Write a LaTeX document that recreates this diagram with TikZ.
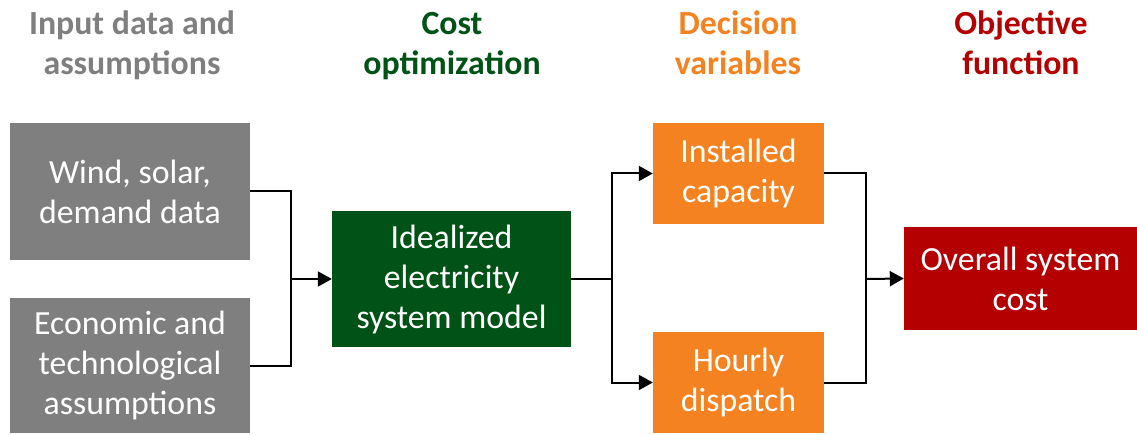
\documentclass[tikz,border=0pt]{standalone}
\usepackage{fontspec}
\setmainfont{Carlito}
\usetikzlibrary{arrows.meta}
\definecolor{cgray}{HTML}{7F7F7F}
\definecolor{cgreen}{HTML}{005217}
\definecolor{corange}{HTML}{F58220}
\definecolor{cred}{HTML}{B40000}
\tikzset{
  box/.style={draw=none, rectangle, inner sep=0pt, align=center, text=white,
    font=\fontsize{33.8}{40}\selectfont},
  head/.style={anchor=base, align=center, inner sep=0pt,
    font=\bfseries\fontsize{33.8}{40}\selectfont},
  conn/.style={line width=2pt, line join=miter, draw=black},
  arr/.style={conn, -{Triangle[length=14pt,width=15pt]}}
}
\begin{document}
\begin{tikzpicture}[x=1pt,y=-1pt]
\useasboundingbox (0,0) rectangle (1137,435);
% headers
\node[head, text=cgray]   (h1) at (132,75)  {Input data and\\assumptions};
\node[head, text=cgreen]  (h2) at (452,75)  {Cost\\optimization};
\node[head, text=corange] (h3) at (738,75)  {Decision\\variables};
\node[head, text=cred]    (h4) at (1021,75) {Objective\\function};
% boxes
\node[box, fill=cgray, minimum width=240pt, minimum height=137pt] (g1) at (130,191.5) {Wind, solar,\\demand data};
\node[box, fill=cgray, minimum width=240pt, minimum height=135pt] (g2) at (130,365.5) {Economic and\\technological\\assumptions};
\node[box, fill=cgreen, minimum width=239pt, minimum height=136pt] (gr) at (451.5,279) {Idealized\\electricity\\system model};
\node[box, fill=corange, minimum width=171pt, minimum height=101pt] (o1) at (738.5,173.5) {Installed\\capacity};
\node[box, fill=corange, minimum width=171pt, minimum height=101pt] (o2) at (738.5,382.5) {Hourly\\dispatch};
\node[box, fill=cred, minimum width=233pt, minimum height=103pt] (rd) at (1020.5,278.5) {Overall system\\cost};
% junctions
\coordinate (j1) at (291,279);
\coordinate (j2) at (612,279);
\coordinate (j3) at (866,279);
% connectors
\draw[conn] (g1.east) -| (j1);
\draw[conn] (g2.east) -| (j1);
\draw[arr] (j1) -- (gr.west);
\draw[conn] (gr.east) -- (j2);
\draw[arr] (j2) |- (o1.west);
\draw[arr] (j2) |- (o2.west);
\draw[conn] (o1.east) -| (j3);
\draw[conn] (o2.east) -| (j3);
\draw[arr] (j3) -- (rd.west);
\end{tikzpicture}
\end{document}
